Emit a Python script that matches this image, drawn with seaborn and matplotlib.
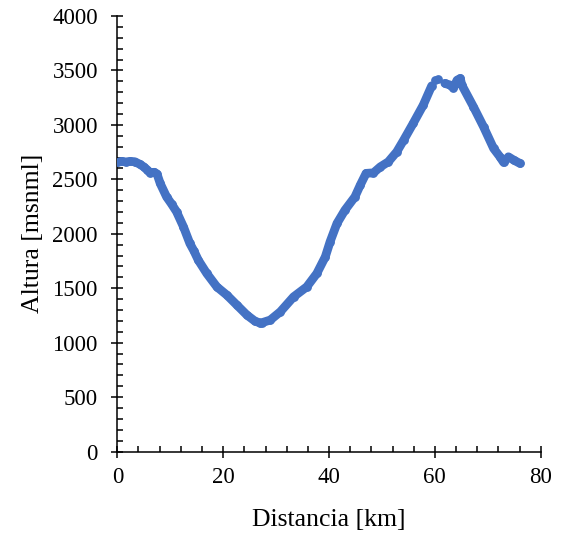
import matplotlib
matplotlib.use("Agg")
import matplotlib.pyplot as plt
import seaborn as sns
import pandas as pd
from matplotlib.ticker import MultipleLocator

# Perfil de elevación: distancia [km] y altura [msnml]
# Tramo 1: salida hasta la subida al primer alto
dist_1 = [0.0, 0.8, 1.6, 2.4, 3.3, 4.2, 5.0, 5.7, 6.2, 7.0, 7.5, 8.1, 9.3, 10.3,
          11.2, 12.5, 13.7, 14.5, 15.3, 16.9, 18.8, 20.7, 22.6, 24.5, 26.0, 27.0,
          27.3, 28.9, 30.8, 33.3, 35.8, 37.7, 39.3, 40.2, 41.5, 43.0, 44.9, 45.9,
          47.0, 48.4, 49.7, 51.2, 52.8, 54.1, 55.9, 57.8, 59.4]
alt_1 = [2655, 2665, 2660, 2665, 2662, 2640, 2615, 2585, 2560, 2565, 2550, 2463,
         2340, 2270, 2202, 2064, 1912, 1840, 1758, 1636, 1513, 1437, 1345, 1253,
         1198, 1180, 1183, 1208, 1284, 1421, 1513, 1636, 1789, 1927, 2095, 2217,
         2340, 2447, 2555, 2560, 2615, 2661, 2753, 2860, 3014, 3182, 3359]

# Tramo 2: puntos aislados en la cumbre
dist_2 = [60.0, 60.6]
alt_2 = [3415, 3418]

# Tramo 3: cumbre y descenso final
dist_3 = [61.9, 62.9, 63.5, 64.2, 64.8, 65.1, 67.3, 69.2, 71.1, 72.3, 73.0,
          73.9, 74.9, 76.1]
alt_3 = [3381, 3366, 3341, 3411, 3427, 3366, 3166, 2983, 2784, 2707, 2655,
         2707, 2677, 2646]

x_ticks = [0, 20, 40, 60, 80]
y_ticks = [0, 500, 1000, 1500, 2000, 2500, 3000, 3500, 4000]

BLUE = "#4472C4"

sns.set_theme(style="ticks")
plt.rcParams["font.family"] = ["Liberation Serif", "DejaVu Serif"]

fig = plt.figure(figsize=(5.63, 5.35), dpi=100)
ax = fig.add_axes([0.2084, 0.156, 0.752, 0.814])

tramos = [(dist_1, alt_1), (dist_2, alt_2), (dist_3, alt_3)]
for d, a in tramos:
    df = pd.DataFrame({"Distancia": d, "Altura": a})
    if len(d) > 2:
        sns.lineplot(data=df, x="Distancia", y="Altura", ax=ax, color=BLUE,
                     linewidth=6.3, sort=False, estimator=None,
                     solid_capstyle="round", solid_joinstyle="round")
    sns.scatterplot(data=df, x="Distancia", y="Altura", ax=ax, color=BLUE,
                    s=40, linewidth=0, zorder=3)

ax.set_xlim(0, 80)
ax.set_ylim(0, 4000)
ax.set_xticks(x_ticks)
ax.set_yticks(y_ticks)
ax.xaxis.set_minor_locator(MultipleLocator(4))
ax.yaxis.set_minor_locator(MultipleLocator(100))

for s in ["top", "right"]:
    ax.spines[s].set_visible(False)
for s in ["left", "bottom"]:
    ax.spines[s].set_color("black")
    ax.spines[s].set_linewidth(1.1)

ax.tick_params(which="major", direction="inout", length=8, width=1.1,
               color="black", labelsize=16.5, labelcolor="black")
ax.tick_params(axis="y", which="major", pad=10)
ax.tick_params(axis="x", which="major", pad=7)
ax.tick_params(which="minor", direction="in", length=4, width=1.1, color="black")

ax.set_xlabel("Distancia [km]", fontsize=18.5, color="black", labelpad=15)
ax.set_ylabel("Altura [msnml]", fontsize=18.5, color="black", labelpad=6)

fig.savefig("out.png", dpi=100)
